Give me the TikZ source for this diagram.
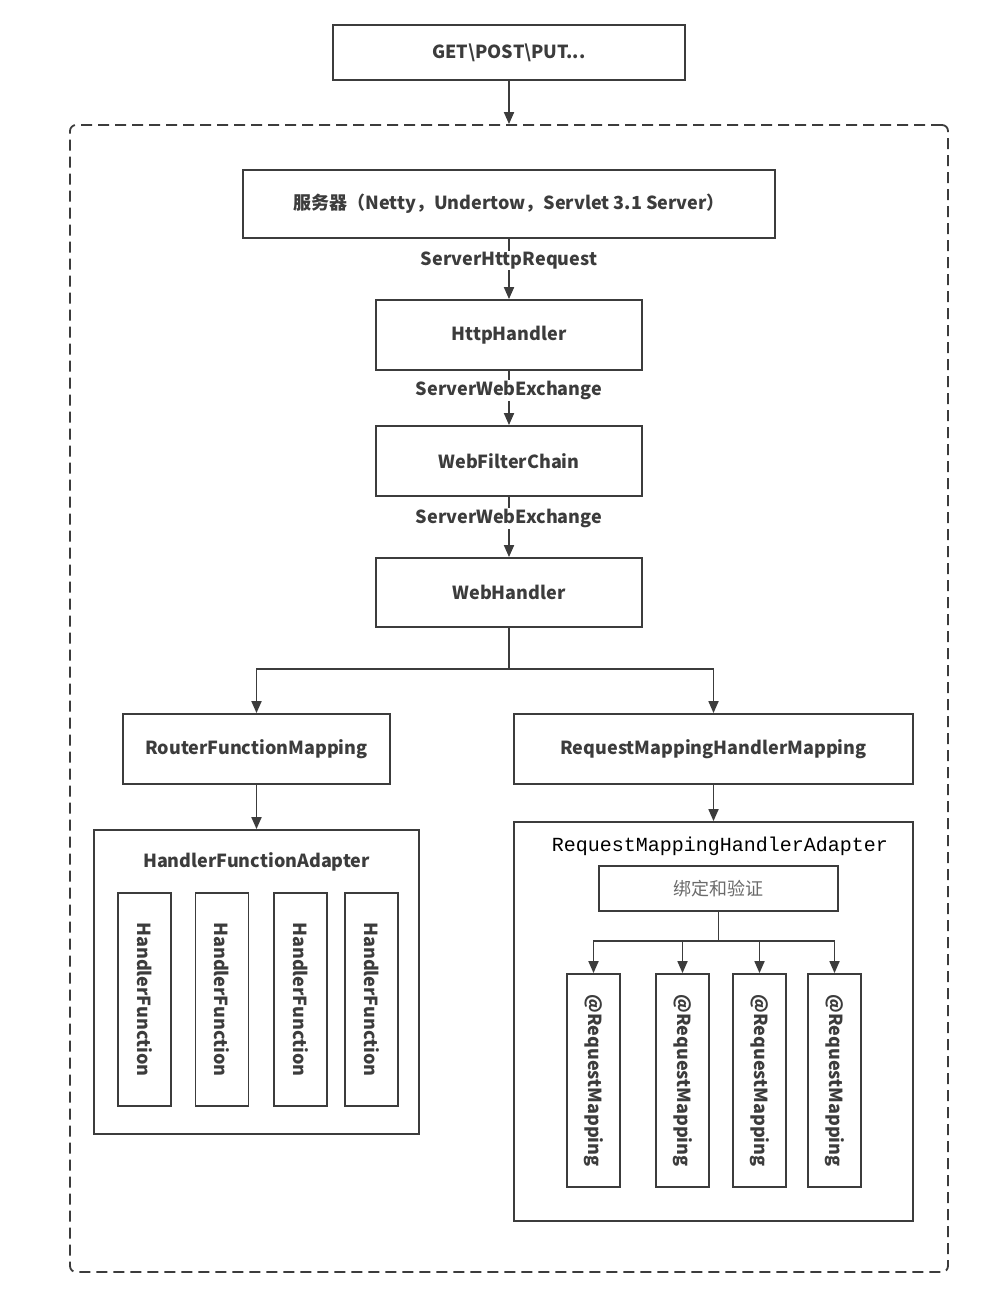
\documentclass[tikz,border=0pt]{standalone}
\usepackage{fontspec}
\setmainfont{Noto Sans CJK SC}
\newfontfamily\codefont{Liberation Mono}
\usetikzlibrary{positioning,arrows.meta,calc}
\definecolor{ink}     {HTML}{3C3C3C}
\definecolor{softink} {HTML}{6A6A6A}
\tikzset{
  >=Stealth,
  every node/.style={text=ink},
  % --- nodes
  box/.style    = {draw=ink, line width=1.8pt, fill=white, inner sep=0pt,
                   font=\bfseries\fontsize{18}{21}\selectfont},
  vbox/.style   = {box, rotate=-90},
  frame/.style  = {draw=ink, line width=1.8pt, dash pattern=on 11pt off 6pt,
                   rounded corners=6pt, inner sep=0pt},
  ttl/.style    = {font=\bfseries\fontsize{18}{21}\selectfont},
  codettl/.style= {font=\codefont\fontsize{20}{22}\selectfont, text=black},
  lbl/.style    = {font=\bfseries\fontsize{18}{21}\selectfont, fill=white,
                   inner sep=1pt, pos=0.36},
  % --- edges
  e/.style      = {line width=1.8pt, draw=ink},
  arr/.style    = {e, -{Triangle[length=12pt,width=10pt]}},
}
\begin{document}
\begin{tikzpicture}[x=1pt,y=-1pt]
  \useasboundingbox (0,0) rectangle (990,1308);
  % outer dashed frame
  \node[frame, minimum width=878pt, minimum height=1147pt] (frame) at (509,698.5) {};
  \node[box, minimum width=352pt, minimum height=55pt] (get) at (509,52.5) {GET\textbackslash POST\textbackslash PUT...};

  % main chain
  \node[box, minimum width=532pt, minimum height=68pt] (server) at (509,204)
    {服务器（Netty，Undertow，Servlet 3.1 Server）};
  \node[box, minimum width=266pt, minimum height=70pt] (http)   at (509,335) {HttpHandler};
  \node[box, minimum width=266pt, minimum height=70pt] (filter) at (509,461) {WebFilterChain};
  \node[box, minimum width=266pt, minimum height=69pt] (webh)   at (509,592.5) {WebHandler};

  \draw[arr] (get) -- (frame.north);
  \draw[arr] (server) -- node[lbl] {ServerHttpRequest} (http);
  \draw[arr] (http) -- node[lbl] {ServerWebExchange} (filter);
  \draw[arr] (filter) -- node[lbl] {ServerWebExchange} (webh);

  % mappings
  \node[box, minimum width=267pt, minimum height=70pt] (router) at (256.5,749) {RouterFunctionMapping};
  \node[box, minimum width=399pt, minimum height=70pt] (rmhm)   at (713.5,749) {RequestMappingHandlerMapping};
  \coordinate (fork) at (509,669);
  \draw[e] (webh) -- (fork);
  \draw[arr] (fork) -| (router);
  \draw[arr] (fork) -| (rmhm);

  % functional side
  \node[box, minimum width=325pt, minimum height=304pt] (hfa) at (256.5,982) {};
  \node[ttl] (hfattl) at (256.5,862) {HandlerFunctionAdapter};
  \draw[arr] (router) -- (hfa);
  \foreach \hx [count=\i] in {144.5,222,300.5,371.5}
    \node[vbox, minimum width=213pt, minimum height=53pt] (hf\i) at (\hx,999.5) {HandlerFunction};

  % annotated side
  \node[box, minimum width=399pt, minimum height=399pt] (rmha) at (713.5,1021.5) {};
  \node[codettl] (rmhattl) at (720,846) {RequestMappingHandlerAdapter};
  \draw[arr] (rmhm) -- (rmha);
  \node[box, minimum width=239pt, minimum height=45pt, font=\fontsize{18}{21}\selectfont,
        text=softink] (bind) at (718.5,888.5) {绑定和验证};
  \coordinate (bfork) at (718.5,941);
  \draw[e] (bind) -- (bfork);
  \foreach \rx [count=\i] in {593.5,682.5,759.5,834.5}
  {
    \node[vbox, minimum width=213pt, minimum height=53pt] (rm\i) at (\rx,1080.5) {@RequestMapping};
    \draw[arr] (bfork) -| (rm\i);
  }
\end{tikzpicture}
\end{document}
